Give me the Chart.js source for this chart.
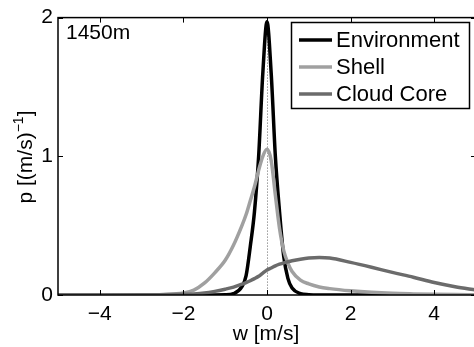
<!DOCTYPE html>
<html>
<head>
<meta charset="utf-8">
<script src="https://cdn.jsdelivr.net/npm/chart.js@4.4.0/dist/chart.umd.min.js"></script>
<style>
  html, body { margin: 0; padding: 0; background: #fff; overflow: hidden; }
  #wrap { width: 480px; height: 347px; }
</style>
</head>
<body>
<div id="wrap"><canvas id="chart" width="480" height="347"></canvas></div>
<script>
// vertical velocity grid (m/s) and pdf values
const wGrid = [-5, -4, -3, -2.5, -2, -1.75, -1.5, -1.25, -1, -0.8,
  -0.6, -0.5, -0.4, -0.3, -0.2, -0.1, 0, 0.1, 0.2, 0.3,
  0.4, 0.5, 0.6, 0.8, 1, 1.25, 1.5, 2, 2.5, 3,
  3.5, 4, 4.5, 5];

const envP = [0, 0, 0, 0, 0, 0, 0, 0, 0.001, 0.01,
  0.06, 0.14, 0.35, 0.6, 1.0, 1.6, 1.97, 1.6, 1.0, 0.6,
  0.28, 0.12, 0.05, 0.01, 0.002, 0, 0, 0, 0, 0,
  0, 0, 0, 0];

const shellP = [0, 0, 0.001, 0.004, 0.015, 0.035, 0.085, 0.16, 0.25, 0.36,
  0.5, 0.58, 0.68, 0.78, 0.9, 1.0, 1.05, 0.97, 0.72, 0.48,
  0.32, 0.23, 0.17, 0.107, 0.08, 0.058, 0.046, 0.03, 0.019, 0.012,
  0.008, 0.005, 0.003, 0.002];

const coreP = [0, 0, 0.001, 0.002, 0.005, 0.008, 0.014, 0.026, 0.042, 0.057,
  0.078, 0.09, 0.103, 0.118, 0.135, 0.158, 0.18, 0.195, 0.21, 0.222,
  0.232, 0.24, 0.247, 0.258, 0.266, 0.27, 0.266, 0.235, 0.2, 0.163,
  0.128, 0.09, 0.06, 0.036];

const seriesNames = ['Environment', 'Shell', 'Cloud Core'];
const seriesColors = ['#000000', '#a0a0a0', '#6b6b6b'];
const xTicks = [-4, -2, 0, 2, 4];
const yTicks = [0, 1, 2];
const heightLabel = '1450m';

const FONT = '"Liberation Sans", Arial, Helvetica, sans-serif';
Chart.defaults.font.family = FONT;
Chart.defaults.color = '#000';

const fmt = (v) => v < 0 ? '\u2212' + Math.abs(v) : String(v);

const matlabBox = {
  id: 'matlabBox',
  beforeDatasetsDraw: (chart) => {
    const { ctx, chartArea: { top, bottom }, scales: { x } } = chart;
    const x0 = x.getPixelForValue(0);
    ctx.save();
    ctx.strokeStyle = '#666';
    ctx.lineWidth = 1;
    ctx.setLineDash([1, 2]);
    ctx.beginPath();
    ctx.moveTo(Math.round(x0) + 0.5, top);
    ctx.lineTo(Math.round(x0) + 0.5, bottom);
    ctx.stroke();
    ctx.restore();
  },
  afterDraw: (chart) => {
    const { ctx, chartArea: { left, right, top, bottom }, scales: { x, y } } = chart;
    ctx.save();

    // box and inward ticks
    ctx.strokeStyle = '#000';
    ctx.lineWidth = 1.5;
    ctx.strokeRect(left, top, right - left, bottom - top);
    ctx.lineWidth = 1;
    ctx.beginPath();
    xTicks.forEach(v => {
      const px = Math.round(x.getPixelForValue(v)) + 0.5;
      ctx.moveTo(px, bottom); ctx.lineTo(px, bottom - 5);
      ctx.moveTo(px, top); ctx.lineTo(px, top + 5);
    });
    yTicks.forEach(v => {
      const py = Math.round(y.getPixelForValue(v)) + 0.5;
      ctx.moveTo(left, py); ctx.lineTo(left + 5, py);
      ctx.moveTo(right, py); ctx.lineTo(right - 5, py);
    });
    ctx.stroke();

    // x label
    ctx.fillStyle = '#000';
    ctx.font = '21px ' + FONT;
    ctx.textAlign = 'center';
    ctx.textBaseline = 'alphabetic';
    ctx.fillText('w [m/s]', (left + 474) / 2, 340);

    // y label with superscript
    ctx.save();
    ctx.translate(32, 157);
    ctx.rotate(-Math.PI / 2);
    ctx.textAlign = 'left';
    const a = 'p [(m/s)', sup = '\u22121', b = ']';
    ctx.font = '21px ' + FONT;
    const wa = ctx.measureText(a).width, wb = ctx.measureText(b).width;
    ctx.font = '14px ' + FONT;
    const ws = ctx.measureText(sup).width;
    let cx = -(wa + ws + wb) / 2;
    ctx.font = '21px ' + FONT;
    ctx.fillText(a, cx, 0);
    cx += wa;
    ctx.font = '14px ' + FONT;
    ctx.fillText(sup, cx, -9);
    cx += ws;
    ctx.font = '21px ' + FONT;
    ctx.fillText(b, cx, 0);
    ctx.restore();

    // height annotation
    ctx.font = '21px ' + FONT;
    ctx.textAlign = 'left';
    ctx.fillText(heightLabel, 66, 39);

    // legend
    ctx.fillStyle = '#fff';
    ctx.fillRect(291.5, 22.5, 178, 86);
    ctx.strokeStyle = '#000';
    ctx.lineWidth = 1.5;
    ctx.strokeRect(291.5, 22.5, 178, 86);
    ctx.font = '22px ' + FONT;
    ctx.textBaseline = 'middle';
    chart.data.datasets.forEach((ds, i) => {
      const ry = 40 + i * 27;
      ctx.strokeStyle = ds.borderColor;
      ctx.lineWidth = 3.5;
      ctx.beginPath();
      ctx.moveTo(299, ry);
      ctx.lineTo(332, ry);
      ctx.stroke();
      ctx.fillStyle = '#000';
      ctx.fillText(ds.label, 336, ry + 1);
    });

    ctx.restore();
  }
};

const seriesValues = [envP, shellP, coreP];

new Chart(document.getElementById('chart').getContext('2d'), {
  type: 'line',
  data: {
    datasets: seriesValues.map((vals, i) => ({
      label: seriesNames[i],
      data: wGrid.map((w, k) => ({ x: w, y: vals[k] })),
      borderColor: seriesColors[i],
      borderWidth: 3.5,
      pointRadius: 0,
      fill: false,
      cubicInterpolationMode: 'monotone',
      order: 3 - i
    }))
  },
  options: {
    responsive: false,
    animation: false,
    layout: { padding: { top: 16, right: 4, left: 0, bottom: 0 } },
    plugins: { legend: { display: false }, tooltip: { enabled: false } },
    scales: {
      x: {
        type: 'linear',
        min: -5,
        max: 5,
        grid: { display: false, drawTicks: false },
        border: { display: false },
        afterFit: (s) => { s.height = 52; },
        afterBuildTicks: (s) => { s.ticks = xTicks.map(v => ({ value: v })); },
        ticks: { padding: 7, font: { size: 21 }, maxRotation: 0, autoSkip: false, callback: fmt }
      },
      y: {
        min: 0,
        max: 2,
        grid: { display: false, drawTicks: false },
        border: { display: false },
        afterFit: (s) => { s.width = 58; },
        afterBuildTicks: (s) => { s.ticks = yTicks.map(v => ({ value: v })); },
        ticks: { padding: 5, font: { size: 21 }, callback: fmt }
      }
    }
  },
  plugins: [matlabBox]
});
</script>
</body>
</html>
